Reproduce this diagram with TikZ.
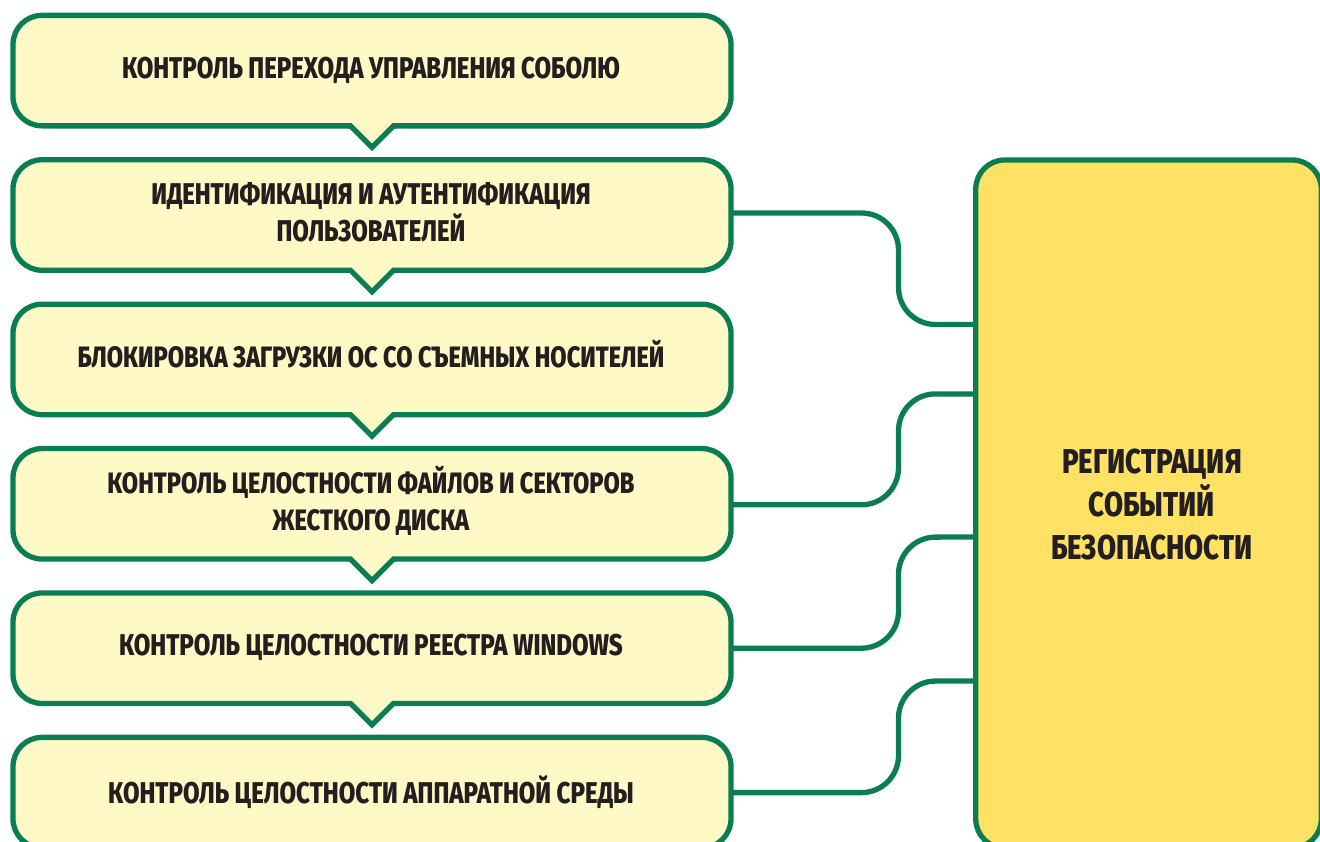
\documentclass[tikz,border=0pt]{standalone}
\usepackage{fontspec}
\newfontfamily\cf[FakeStretch=0.8,BoldFont={Fira Sans ExtraBold}]{Fira Sans}
\definecolor{gr}{HTML}{0A7D53}
\definecolor{cream}{HTML}{FFF9C6}
\definecolor{yel}{HTML}{FFE263}
\definecolor{ink}{HTML}{231F20}
\tikzset{x=1pt,y=-1pt,
 boxs/.style={draw=gr,line width=5.3pt,fill=cream,rounded corners=29pt,minimum width=718pt,minimum height=110.5pt,inner sep=0pt,outer sep=0pt,anchor=center},
 lab/.style={font=\cf\bfseries\fontsize{30}{37}\selectfont,text=ink,align=center,inner sep=0pt,anchor=base},
 labn/.style={font=\cf\bfseries\fontsize{29.5}{37}\selectfont,text=ink,align=center,inner sep=0pt,anchor=base},
 biglab/.style={font=\cf\bfseries\fontsize{34.5}{43}\selectfont,text=ink,align=center,inner sep=0pt,anchor=base},
 conn/.style={draw=gr,line width=5.3pt,rounded corners=37pt},
 ptr/.style={draw=gr,line width=5.3pt,miter limit=10},
}
\begin{document}
\begin{tikzpicture}
\useasboundingbox (0,0) rectangle (1320,841);
\begin{scope}
\clip (0,0) rectangle (1320,841);
\node[boxs] (b1) at (372,70.6) {};
\node[boxs] (b2) at (372,215) {};
\node[boxs] (b3) at (372,359.4) {};
\node[boxs] (b4) at (372,503.8) {};
\node[boxs] (b5) at (372,648.2) {};
\node[boxs] (b6) at (372,792.6) {};
\node[boxs,fill=yel,minimum width=345.5pt,minimum height=688pt] (r) at (1148.5,504) {};
\foreach \n in {b1,b2,b3,b4,b5}{
 \fill[cream] ([xshift=-26pt,yshift=5pt]\n.south) -- ([yshift=-21.5pt]\n.south) -- ([xshift=26pt,yshift=5pt]\n.south) -- cycle;
 \draw[ptr] ([xshift=-24pt]\n.south) -- ([xshift=-21.5pt]\n.south) -- ([yshift=-21.5pt]\n.south) -- ([xshift=21.5pt]\n.south) -- ([xshift=24pt]\n.south);
}
\coordinate (r1) at (r.west |- 0,324.5);
\coordinate (r2) at (r.west |- 0,394);
\coordinate (r3) at (r.west |- 0,537);
\coordinate (r4) at (r.west |- 0,681);
\draw[conn] ([yshift=2pt]b2.east) -- ++(167.5,0) -- ++(0,111.5) -- (r1);
\draw[conn] ([yshift=-1pt]b4.east) -- ++(167.5,0) -- ++(0,-111) -- (r2);
\draw[conn] (b5.east) -- ++(167.5,0) -- ++(0,-111) -- (r3);
\draw[conn] (b6.east) -- ++(167.5,0) -- ++(0,-111.5) -- (r4);
\end{scope}
\node[lab] (t1) at (371,78) {КОНТРОЛЬ ПЕРЕХОДА УПРАВЛЕНИЯ СОБОЛЮ};
\node[lab] (t2) at (371,241) {ИДЕНТИФИКАЦИЯ И АУТЕНТИФИКАЦИЯ\\ПОЛЬЗОВАТЕЛЕЙ};
\node[labn] (t3) at (371,367) {БЛОКИРОВКА ЗАГРУЗКИ ОС СО СЪЕМНЫХ НОСИТЕЛЕЙ};
\node[labn] (t4) at (371,530) {КОНТРОЛЬ ЦЕЛОСТНОСТИ ФАЙЛОВ И СЕКТОРОВ\\ЖЕСТКОГО ДИСКА};
\node[lab] (t5) at (371,655) {КОНТРОЛЬ ЦЕЛОСТНОСТИ РЕЕСТРА WINDOWS};
\node[lab] (t6) at (371,803) {КОНТРОЛЬ ЦЕЛОСТНОСТИ АППАРАТНОЙ СРЕДЫ};
\node[biglab] (t7) at (1152,559) {РЕГИСТРАЦИЯ\\СОБЫТИЙ\\БЕЗОПАСНОСТИ};
\end{tikzpicture}
\end{document}
